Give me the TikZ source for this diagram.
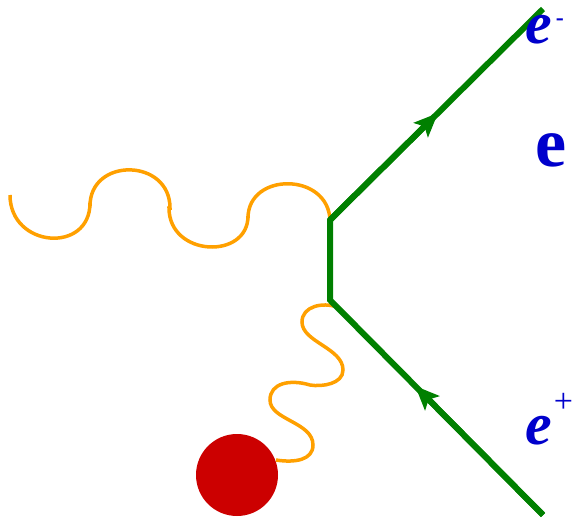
\documentclass[tikz,border=0pt]{standalone}
\usepackage{fontspec}
\setmainfont{Liberation Serif}
\usetikzlibrary{arrows.meta,calc}

\definecolor{fermiongreen}{RGB}{0,128,0}
\definecolor{photonorange}{RGB}{255,160,0}
\definecolor{blobred}{RGB}{204,0,0}
\definecolor{labelblue}{RGB}{0,0,204}

\tikzset{
  fermion/.style={draw=fermiongreen, line width=6pt, line join=miter},
  fermionarrow/.style={draw=fermiongreen, line width=6pt,
    -{Stealth[length=24pt, width=20pt, inset=5pt]}},
  photon/.style={draw=photonorange, line width=3.5pt},
  blob/.style={circle, fill=blobred, minimum size=82pt, inner sep=0pt},
  particle/.style={text=labelblue, inner sep=0pt, anchor=base west},
}

\begin{document}
\begin{tikzpicture}[x=1pt, y=-1pt]
  \useasboundingbox (0,0) rectangle (575,519);

  % vertices and external ends
  \coordinate (v1) at (330,220);
  \coordinate (v2) at (330,300);
  \coordinate (eminus) at (543,9);
  \coordinate (eplus) at (543,515);
  \coordinate (gin) at (10,195);
  \coordinate (gout) at (337,307);
  \coordinate (gend) at (276,460);

  % external source
  \node[blob] (source) at (237,475) {};

  % incoming photon: four half-loops ending at the upper vertex
  \draw[photon] (gin) .. controls (10,248) and (90,254) .. (90,203)
    -- (90,206) .. controls (90,157) and (170,158) .. (170,208)
    -- (169,208) .. controls (169,257) and (248,260) .. (248,216)
    -- (248,218) .. controls (248,172) and (328,172) .. (v1);

  % coiled photon from the lower vertex to the source
  \draw[photon] (gout) .. controls (323,302) and (302,306) .. (302,322)
    .. controls (302,342) and (343,348) .. (343,370)
    .. controls (343,384) and (322,387) .. (310,385)
    .. controls (290,379) and (270,383) .. (270,400)
    .. controls (270,420) and (313,422) .. (313,445)
    .. controls (313,460) and (295,463) .. (gend);

  % fermion line e+ -> vertex -> vertex -> e-
  \draw[fermion] (eplus) -- (v2) -- (v1) -- (eminus);
  \draw[fermionarrow] (eplus) -- ($(eplus)!0.6!(v2)$);
  \draw[fermionarrow] (v1) -- ($(v1)!0.507!(eminus)$);

  % labels
  \node[particle, font=\fontsize{60}{60}\selectfont\bfseries\itshape] (lminus) at (525,44)
    {e\kern4pt\raisebox{18pt}{\fontsize{24}{24}\selectfont\upshape -}};
  \node[particle, font=\fontsize{70}{70}\selectfont\bfseries] (le) at (535,166) {e};
  \node[particle, font=\fontsize{60}{60}\selectfont\bfseries\itshape] (lplus) at (525,444)
    {e\kern2pt\raisebox{32pt}{\fontsize{34}{34}\selectfont\mdseries\upshape +}};
\end{tikzpicture}
\end{document}
